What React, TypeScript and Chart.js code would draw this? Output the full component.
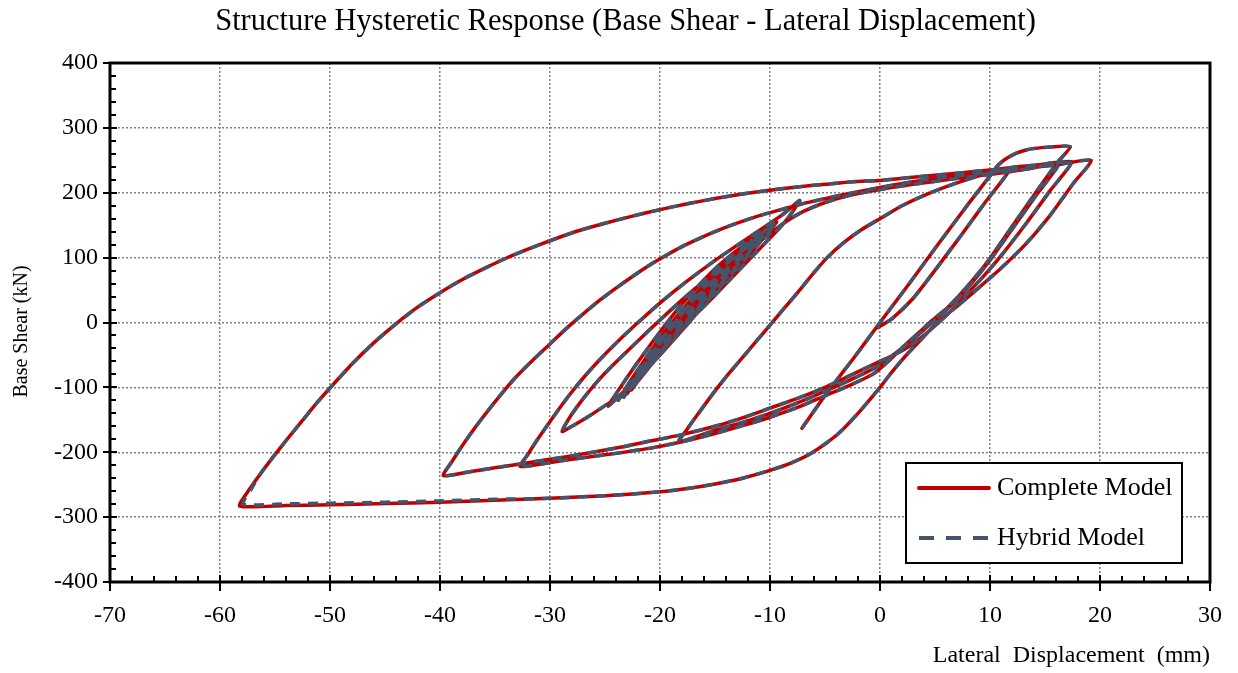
import React, { useEffect, useRef } from 'react';
import { Chart, registerables } from 'chart.js';

Chart.register(...registerables);

const FONT = '"Liberation Serif", "Times New Roman", serif';
const RED = '#C00000';
const GRAY = '#44546A';
const GRID = '#808080';

const TITLE = 'Structure Hysteretic Response (Base Shear - Lateral Displacement)';
const X_TITLE = 'Lateral  Displacement  (mm)';
const Y_TITLE = 'Base Shear (kN)';
const SERIES_NAMES = ['Complete Model', 'Hybrid Model'];

const X_MIN = -70, X_MAX = 30, X_STEP = 10, X_MINOR = 2;
const Y_MIN = -400, Y_MAX = 400, Y_STEP = 100, Y_MINOR = 20;

type P = [number, number];

// elastic start and first (virgin) loading to the highest peak
const S1: P[] = [[-7.1,-163],[-4.8,-108],[-2.4,-55],[0,0],[2.7,61],[5.3,121],[8,182],[10,226],[10.6,240],[11.1,248],[11.6,254],[12.4,261],[13.2,265.5],[13.9,268],[15.5,270.5],[17.3,271]];
// unloading from the peak to the negative tip at -32.7 mm
const S2: P[] = [[16.1,246],[13.9,194],[11.8,143],[9.7,92],[7.9,55],[6.2,24],[4.8,4],[3.5,-16],[2.2,-36],[1,-56],[-0.5,-78],[-2.5,-95],[-5,-113],[-7.5,-131],[-10,-146],[-12.5,-159],[-15,-171],[-18.3,-185],[-21,-194],[-25,-204],[-29,-213],[-32.7,-222]];
// reloading to the -7.3 mm tip
const S3: P[] = [[-32,-203],[-31.2,-182],[-30.3,-160],[-29.3,-136],[-28.2,-111],[-26.9,-84],[-25.4,-56],[-23.7,-27],[-21.8,3],[-19.8,33],[-17.6,63],[-15.3,92],[-12.9,120],[-10.6,146],[-8.8,167],[-7.3,188]];
// unloading to the -29 mm tip
const S4: P[] = [[-7.9,172],[-8.8,152],[-10,130],[-11.5,104],[-13.2,74],[-15,42],[-17,8],[-19,-28],[-20.7,-63],[-22.2,-94],[-23.6,-113],[-24.9,-127],[-26.5,-145],[-28,-160],[-28.9,-168]];
// reloading into the small cycles
const S5: P[] = [[-28.2,-146],[-27.1,-120],[-25.8,-93],[-24.3,-66],[-22.6,-38],[-20.8,-9],[-18.9,21],[-16.9,51],[-14.8,80],[-12.7,108],[-10.9,133],[-9.4,155]];
// small cycles (narrow loops)
const S6: P[] = [
  [-10.2,138],[-11.5,112],[-13,84],[-14.7,52],[-16.5,17],[-18.3,-18],[-20,-50],[-21.7,-80],[-23.2,-105],[-24.7,-129],
  [-23.8,-105],[-22.6,-75],[-21.2,-42],[-19.8,-10],[-18.3,22],[-16.6,55],[-14.8,86],[-12.8,114],[-11,136],[-9.8,150],
  [-10.6,133],[-11.9,108],[-13.4,80],[-15.1,48],[-16.9,14],[-18.6,-19],[-20.2,-49],[-21.8,-77],[-23,-100],[-23.8,-120],
  [-23,-98],[-21.9,-70],[-20.6,-38],[-19.2,-6],[-17.7,25],[-16.1,56],[-14.4,85],[-12.6,112],[-11.2,132],[-10.3,146],
  [-11.1,129],[-12.4,104],[-13.9,76],[-15.5,45],[-17.2,12],[-18.9,-20],[-20.4,-49],[-21.8,-76],[-22.7,-96],[-23.3,-115],
  [-22.5,-93],[-21.4,-64],[-20.2,-34],[-18.9,-5],[-17.5,24],[-16.1,50],[-14.8,71],[-13.6,86],
  [-14.3,70],[-15.4,47],[-16.8,18],[-18.3,-12],[-19.8,-42],[-21.2,-70],[-22.3,-92],[-23,-110],
  [-22.2,-88],[-21.1,-60],[-19.9,-30],[-18.6,0],[-17.2,30],[-15.7,60],[-14.1,88],[-12.5,114],[-11,140],
  [-11.8,124],[-13.1,98],[-14.6,70],[-16.2,38],[-17.9,4],[-19.5,-28],[-21,-58],[-22,-82],[-22.6,-104],
];
// long loading to the 17.4 mm tip
const S7: P[] = [[-21.6,-80],[-20.4,-50],[-19,-18],[-17.5,15],[-15.8,50],[-14,82],[-12,110],[-10,137],[-8.5,156],[-7,171],[-5,185],[-3,195],[0,205],[3,213],[6.5,221],[10.3,229],[13.5,237],[17.4,248]];
// unloading to the -39.7 mm tip
const S8: P[] = [[15.5,204],[13.3,153],[11.2,107],[9.4,71],[7.8,42],[6.4,17],[5.2,-2],[4,-20],[2.8,-35],[1.6,-47],[0,-60],[-2.5,-80],[-5,-100],[-7.5,-117],[-10,-132],[-12.5,-147],[-15,-160],[-18.3,-174],[-21,-183],[-23.5,-192],[-28.2,-206],[-32.7,-218],[-37.3,-230],[-39.7,-236]];
// reloading to the 19.2 mm tip
const S9: P[] = [[-38.9,-214],[-38.1,-193],[-37.2,-171],[-36.1,-146],[-34.8,-118],[-33.2,-86],[-31.5,-57],[-30,-33],[-28.5,-9],[-27,13],[-25.5,34],[-24,53],[-22.5,71],[-21,88],[-19.5,103],[-18,117],[-16.5,129],[-15,140],[-13.5,150],[-12,159],[-10.5,167],[-9,174],[-7.3,182],[-5,191],[-3,198],[0,208],[3,217],[6.5,225],[10.3,232],[13,237],[16,243],[19.2,250]];
// large unloading to the -58 mm tip
const S10_HEAD: P[] = [[17.6,215],[15.5,166],[13.2,120],[10.9,82],[8.6,48],[7,25],[5.3,2],[3.8,-25],[2.3,-52],[1,-78],[0,-100],[-2,-140],[-3.9,-173],[-6.1,-200],[-8,-216],[-10,-228],[-12.5,-240],[-15,-249],[-17.5,-256],[-20,-261],[-25,-267],[-30,-271]];
const S10_TAIL_COMPLETE: P[] = [[-35,-274],[-40,-277],[-45,-279],[-50,-281],[-54,-282],[-58.2,-283]];
const S10_TAIL_HYBRID: P[] = [[-35,-272.5],[-40,-275],[-45,-277],[-50,-278.5],[-54,-279.5],[-57.9,-280]];
// large reloading from the -58 mm tip
const S11_HEAD_COMPLETE: P[] = [[-57.4,-259]];
const S11_HEAD_HYBRID: P[] = [[-57.2,-258]];
const S11_TAIL: P[] = [[-56.4,-235],[-55.2,-208],[-53.9,-180],[-52.5,-151],[-51.2,-124],[-50,-101],[-48,-64],[-46,-31],[-44,-2],[-42,24],[-40,46],[-38,66],[-36,83],[-34,99],[-32,113],[-30,126],[-27.5,141],[-25,153],[-22.5,164],[-20,174],[-17.5,183],[-15,191],[-12.5,198],[-10,204],[-7.5,209],[-5,213],[-2.5,217],[0,219],[2.5,223],[5,227],[7.5,231],[10,235],[12.5,240],[14.5,243],[16.3,246]];
// unloading to the -18.3 mm tip
const S12: P[] = [[14.2,196],[12.1,146],[10,96],[8.2,58],[6.5,27],[5.1,6],[3.8,-14],[2.5,-33],[1.2,-50],[0,-66],[-2.5,-87],[-5,-106],[-7.5,-124],[-10,-140],[-12.5,-154],[-15,-166],[-18.3,-184]];
// final reloading and unloading
const S13: P[] = [[-17.6,-166],[-16.5,-140],[-15.2,-110],[-13.9,-82],[-12.7,-58],[-11.3,-30],[-10,-4],[-8.7,22],[-7.4,48],[-6.1,75],[-4.8,100],[-3.3,123],[-1.7,143],[0,160],[2,180],[4.3,198],[6.8,214],[9,226],[10.6,233],[11.8,236]];
const S14: P[] = [[9.6,186],[7.4,135],[5.2,85],[3,37],[1.1,6],[-0.2,-8]];

const COMPLETE_PATH: P[][] = [S1, S2, S3, S4, S5, S6, S7, S8, S9, S10_HEAD, S10_TAIL_COMPLETE, S11_HEAD_COMPLETE, S11_TAIL, S12, S13, S14];
const HYBRID_PATH: P[][] = [S1, S2, S3, S4, S5, S6, S7, S8, S9, S10_HEAD, S10_TAIL_HYBRID, S11_HEAD_HYBRID, S11_TAIL, S12, S13, S14];

const toPoints = (segs: P[][]) => segs.flat().map(([x, y]) => ({ x, y }));

const textPlugin = {
  id: 'titles',
  afterDraw(chart: any) {
    const { ctx, chartArea: ca } = chart;
    ctx.save();
    ctx.fillStyle = '#000';
    ctx.textAlign = 'center';
    ctx.textBaseline = 'middle';
    ctx.font = `30.5px ${FONT}`;
    ctx.fillText(TITLE, 625.5, 22);
    ctx.translate(22, (ca.top + ca.bottom) / 2 + 9);
    ctx.rotate(-Math.PI / 2);
    ctx.font = `20px ${FONT}`;
    ctx.fillText(Y_TITLE, 0, 0);
    ctx.restore();
  },
};

const framePlugin = {
  id: 'frameTicks',
  afterDraw(chart: any) {
    const { ctx, chartArea: ca, scales } = chart;
    const xs = scales.x, ys = scales.y;
    ctx.save();
    ctx.strokeStyle = '#000';
    ctx.lineWidth = 2;
    ctx.beginPath();
    for (let v = X_MIN; v <= X_MAX + 1e-9; v += X_MINOR) {
      const px = Math.round(xs.getPixelForValue(v));
      if (Math.abs(v % X_STEP) < 1e-9) { ctx.moveTo(px, ca.bottom - 7); ctx.lineTo(px, ca.bottom + 9); }
      else { ctx.moveTo(px, ca.bottom); ctx.lineTo(px, ca.bottom - 6); }
    }
    for (let v = Y_MIN; v <= Y_MAX + 1e-9; v += Y_MINOR) {
      const py = Math.round(ys.getPixelForValue(v));
      if (Math.abs(v % Y_STEP) < 1e-9) { ctx.moveTo(ca.left - 7, py); ctx.lineTo(ca.left + 7, py); }
      else { ctx.moveTo(ca.left, py); ctx.lineTo(ca.left + 6, py); }
    }
    ctx.stroke();
    ctx.lineWidth = 3;
    ctx.strokeRect(ca.left, ca.top, ca.right - ca.left, ca.bottom - ca.top);
    ctx.restore();
  },
};

const legendPlugin = {
  id: 'boxLegend',
  afterDraw(chart: any) {
    const { ctx, chartArea: ca } = chart;
    const x0 = ca.right - 304, y0 = ca.bottom - 119, w = 276, h = 100;
    ctx.save();
    ctx.fillStyle = '#fff';
    ctx.fillRect(x0, y0, w, h);
    ctx.lineWidth = 2;
    ctx.strokeStyle = '#000';
    ctx.strokeRect(x0, y0, w, h);
    const rows = [y0 + 25, y0 + 75];
    chart.data.datasets.forEach((ds: any, i: number) => {
      const yy = rows[i];
      ctx.beginPath();
      ctx.strokeStyle = ds.borderColor;
      ctx.lineWidth = 4;
      ctx.lineCap = i === 0 ? 'round' : 'butt';
      ctx.setLineDash(i === 0 ? [] : [15, 12]);
      ctx.moveTo(x0 + 13, yy);
      ctx.lineTo(x0 + 83, yy);
      ctx.stroke();
      ctx.setLineDash([]);
      ctx.fillStyle = '#000';
      ctx.font = `26px ${FONT}`;
      ctx.textBaseline = 'middle';
      ctx.textAlign = 'left';
      ctx.fillText(ds.label, x0 + 91, yy);
    });
    ctx.restore();
  },
};

export default function App() {
  const ref = useRef<HTMLCanvasElement>(null);
  useEffect(() => {
    document.body.style.margin = '0';
    const canvas = ref.current;
    if (!canvas) return;
    const chart = new Chart(canvas, {
      type: 'scatter',
      data: {
        datasets: [
          {
            label: SERIES_NAMES[0],
            data: toPoints(COMPLETE_PATH),
            showLine: true,
            borderColor: RED,
            backgroundColor: RED,
            borderWidth: 3.5,
            pointRadius: 0,
            pointHoverRadius: 0,
            tension: 0.2,
            borderJoinStyle: 'round',
            borderCapStyle: 'round',
            order: 2,
          } as any,
          {
            label: SERIES_NAMES[1],
            data: toPoints(HYBRID_PATH),
            showLine: true,
            borderColor: GRAY,
            backgroundColor: GRAY,
            borderWidth: 3.5,
            borderDash: [10, 8],
            pointRadius: 0,
            pointHoverRadius: 0,
            tension: 0.2,
            borderJoinStyle: 'round',
            order: 1,
          } as any,
        ],
      },
      options: {
        animation: false,
        responsive: false,
        layout: { padding: { left: 0, right: 28, top: 63, bottom: 0 } },
        plugins: {
          legend: { display: false },
          tooltip: { enabled: false },
          title: { display: false },
        },
        scales: {
          x: {
            type: 'linear',
            min: X_MIN,
            max: X_MAX,
            ticks: { stepSize: X_STEP, color: '#000', font: { family: FONT, size: 24 }, padding: 19, maxRotation: 0 },
            grid: { color: GRID, lineWidth: 1.5, drawTicks: false },
            border: { display: false, dash: [2, 2] },
            title: {
              display: true,
              text: X_TITLE,
              align: 'end',
              color: '#000',
              font: { family: FONT, size: 24, lineHeight: 1.2 },
              padding: { top: 0, bottom: 3 },
            },
            afterFit: (s: any) => { s.height = 91; s.paddingLeft = 0; s.paddingRight = 0; },
          },
          y: {
            type: 'linear',
            min: Y_MIN,
            max: Y_MAX,
            ticks: { stepSize: Y_STEP, color: '#000', font: { family: FONT, size: 24 }, padding: 12 },
            grid: { color: GRID, lineWidth: 1.5, drawTicks: false },
            border: { display: false, dash: [2, 2] },
            title: { display: false },
            afterFit: (s: any) => { s.width = 110; s.paddingTop = 0; s.paddingBottom = 0; },
          },
        },
      } as any,
      plugins: [framePlugin, legendPlugin, textPlugin],
    });
    return () => chart.destroy();
  }, []);
  return (
    <div style={{ width: 1238, height: 673 }}>
      <canvas ref={ref} width={1238} height={673} style={{ display: 'block' }} />
    </div>
  );
}
